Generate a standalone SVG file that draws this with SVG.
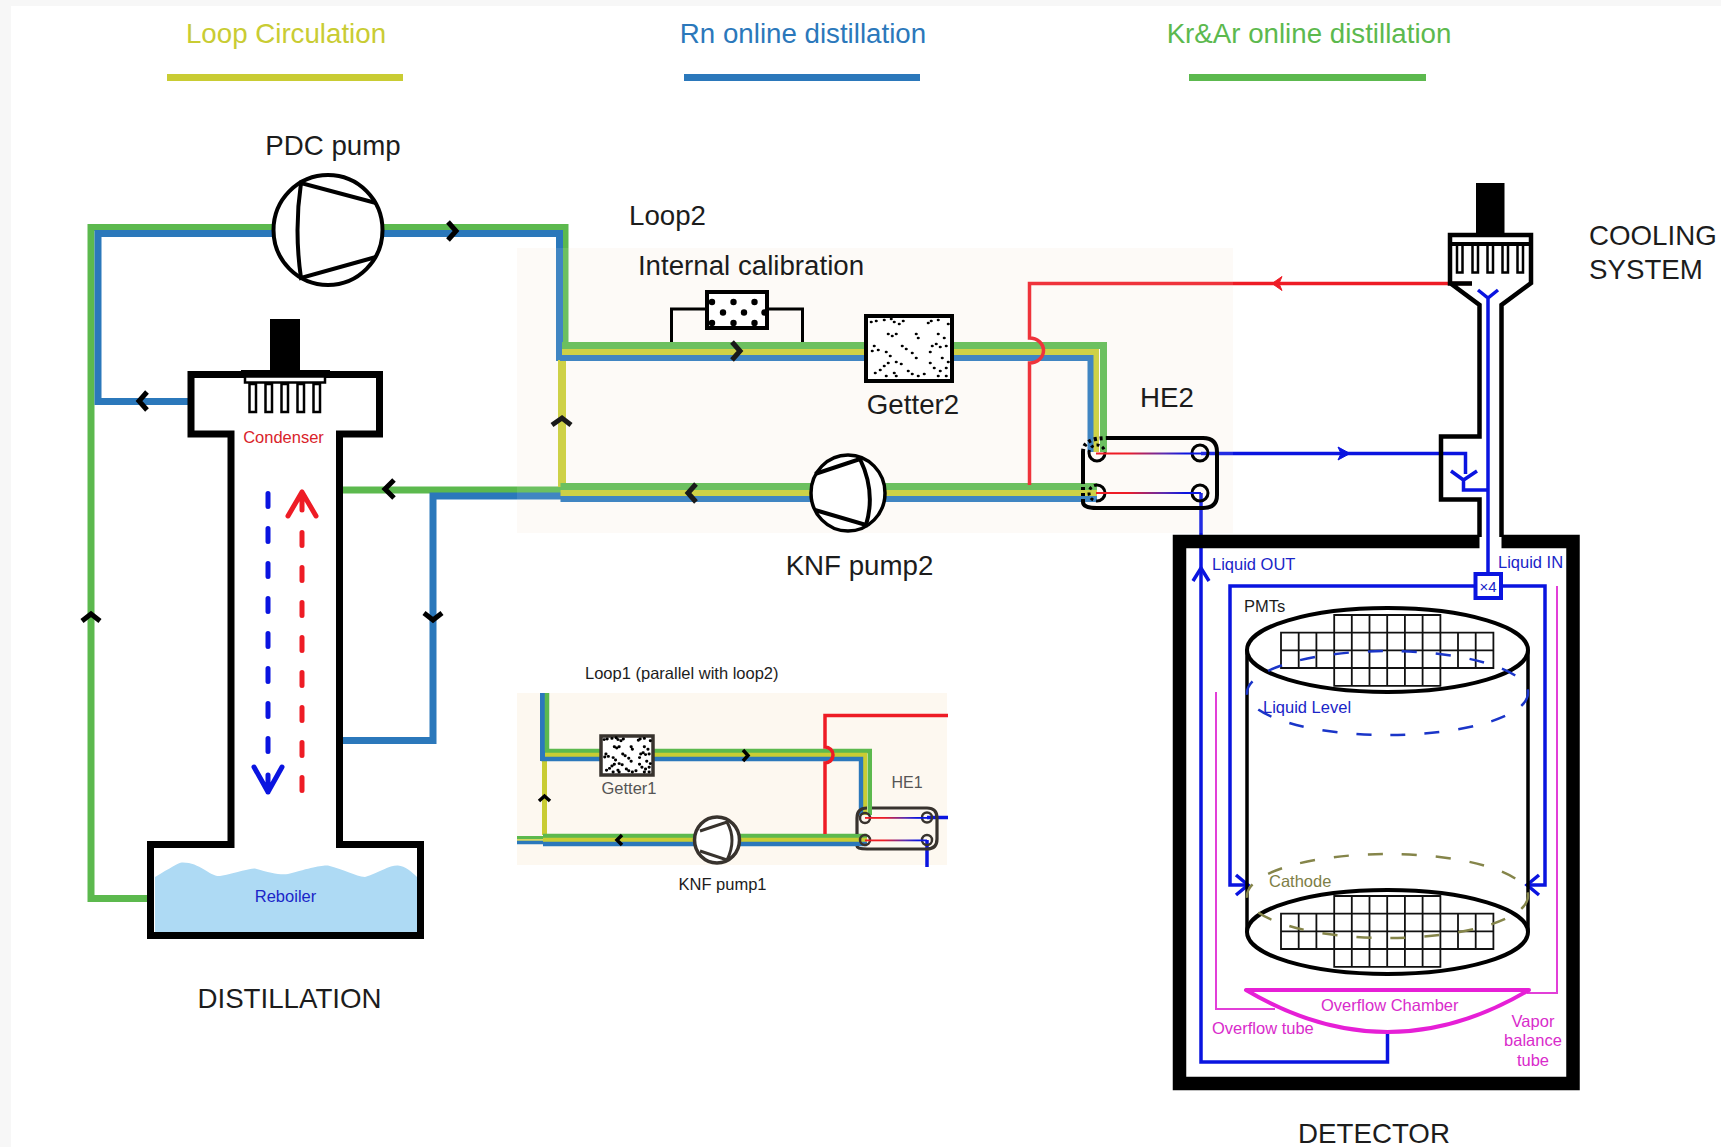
<svg xmlns="http://www.w3.org/2000/svg" xmlns:xlink="http://www.w3.org/1999/xlink" width="1721" height="1147" viewBox="0 0 1721 1147">
<style>
text{font-family:"Liberation Sans",Arial,sans-serif;font-size:27.700px;fill:#1c1c1c}
.m{text-anchor:middle}
.s{font-size:16.500px}
.blu{fill:#1a25c8}.mag{fill:#d92bcb}
.p{fill:none;stroke-linejoin:miter}
.g{stroke:#5cb94e}.b{stroke:#2b78bb}.y{stroke:#c9cc33}
.w7{stroke-width:7}.w4{stroke-width:4.400}
.red{fill:none;stroke:#ee1c25;stroke-width:3.500}
.bl{fill:none;stroke:#0a14e0;stroke-width:3.500}
.k{fill:none;stroke:#000;stroke-width:4}
.kw{fill:#fff;stroke:#000;stroke-width:4}
.chev{fill:none;stroke:#000;stroke-width:5}
.grid{fill:none;stroke:#111;stroke-width:1.800}
.mt{fill:none;stroke:#e23fd8;stroke-width:2}
.dk{stroke:#38332e}
.dash{stroke-dasharray:3 3}
</style>
<defs>
<linearGradient id="rb" gradientUnits="objectBoundingBox" x1="0" y1="0" x2="1" y2="0">
<stop offset="0.3" stop-color="#ee1c25"/><stop offset="0.65" stop-color="#5a2bb0"/><stop offset="0.85" stop-color="#0a14e0"/>
</linearGradient>
<path id="dots" fill="none" stroke="#000" stroke-linecap="round" d="M5,6h.5M10,5h.5M18,4h.5M25,3h.5M28,6h.5M33,8h.5M37,5h.5M62,7h.5M65,5h.5M72,4h.5M22,18h.5M26,20h.5M30,18h.5M50,18h.5M52,22h.5M72,18h.5M78,22h.5M8,30h.5M6,35h.5M12,34h.5M20,36h.5M36,30h.5M40,33h.5M46,37h.5M50,42h.5M66,30h.5M70,28h.5M64,36h.5M74,31h.5M80,30h.5M24,40h.5M30,46h.5M35,48h.5M18,50h.5M22,47h.5M64,47h.5M68,52h.5M76,42h.5M82,46h.5M80,52h.5M74,55h.5M9,57h.5M14,54h.5M20,60h.5M28,57h.5M30,60h.5M42,55h.5M46,58h.5M52,60h.5M58,58h.5M72,60h.5M80,60h.5M82,8h.5"/>
<path id="cells" d="M53.200,0H159.400V17.700H212.400V53H159.400V70.800H53.200V53H0V17.700H53.200ZM70.800,0V70.800M88.500,0V70.800M106.200,0V70.800M123.900,0V70.800M141.600,0V70.800M17.700,17.700V53M35.400,17.700V53M53.200,17.700V53M159.400,17.700V53M177,17.700V53M194.700,17.700V53M0,35.400H212.400M53.200,17.700H159.400M53.200,53H159.400"/>
</defs>

<rect width="1721" height="1147" fill="#fff"/>
<path d="M0,0H1721V6H11V1147H0Z" fill="#f7f7f7"/>

<g id="backgrounds">
<rect x="517" y="248" width="716" height="285" fill="#fdfaf6"/>
<rect x="517" y="693" width="430" height="172" fill="#fdf8f0"/>
</g>

<g id="connectors">
<path class="p g w7" d="M147,898.500H91V227.500H565V345"/>
<path class="p b w7" d="M188,401.500H98V233.500H559.500V361"/>
<path class="p g w7" d="M343,490H565"/>
<path class="p b w7" d="M342,740.500H433V496H562"/>
<path class="p y" stroke-width="8" d="M562,360V487"/>
<path class="p g w7" d="M562,345.500H1103.500V452"/>
<path class="p y" stroke-width="6" d="M562,352H1096V452"/>
<path class="p b" stroke-width="6" d="M560,358H1090.500V452"/>
<path class="p g w7" d="M560.500,486.500H1097"/>
<path class="p y" stroke-width="6" d="M560.500,493H1097"/>
<path class="p b" stroke-width="6" d="M560.500,499H1097"/>
<path class="p b" stroke-width="5" d="M542.500,693V761"/>
<path class="p g" stroke-width="4.500" d="M547,693V751"/>
<path class="p y" stroke-width="5" d="M544.500,761V835"/>
<path class="p g w4" d="M545,751H869.800V815"/>
<path class="p y w4" d="M545,755H865V815"/>
<path class="p b w4" d="M541,759H861V815"/>
<path class="p g w4" d="M543,836H867"/>
<path class="p y w4" d="M543,840H867"/>
<path class="p b w4" d="M543,844H867"/>
<path class="p g" stroke-width="3" d="M517,837.500H543"/>
<path class="p y" stroke-width="1.500" d="M517,840H543"/>
<path class="p b" stroke-width="3.500" d="M517,842.500H543"/>
<path class="red" d="M1472,283.500H1029.500V338A14,12.500 0 0 1 1029.500,363V485"/>
<path class="red" stroke-width="3" d="M948,715.500H825V747A8,8 0 0 1 825,763V834"/>
<path class="bl" d="M1201,453.500H1465.500V474"/>
<path class="bl" d="M1451,471L1463.500,480L1477,471M1463.500,480V490H1488"/>
<path class="bl" d="M1201,493V1062H1387.500V1032"/>
<path class="bl" d="M1193,581L1201,568L1209,581"/>
<path class="bl" d="M1478,290L1488,298L1498,290M1488,298V574"/>
<path class="bl" d="M1476,586H1230V885H1246"/>
<path class="bl" d="M1501,586H1545V885H1530"/>
<path class="bl" stroke-width="3" d="M927,817.500H948M927,840V867"/>
<path d="M1236,875L1248,885L1236,895" class="bl" stroke-width="4.500"/>
<path d="M1539,875L1527,885L1539,895" class="bl" stroke-width="4.500"/>
<path d="M1272,283.500L1282,276.500L1279,283.500L1282,290.500Z" fill="#ee1c25" stroke="#ee1c25"/>
<path d="M1350,453.500L1338,447L1341,453.500L1338,460Z" fill="#0a14e0" stroke="#0a14e0"/>
<g class="chev">
<path d="M448,222L456,231L448,240"/>
<path d="M147,392L139,401L147,410"/>
<path d="M394,480L385,489L394,498"/>
<path d="M82,621L91,614L100,621"/>
<path d="M424,613L433,620L442,613"/>
<path d="M552,425L562,418L571,425"/>
<path d="M732,342L740,351L732,360"/>
<path d="M696,484L688,493L696,502"/>
</g>
<g class="chev" style="stroke-width:3.500px">
<path d="M539,801L544.500,796L550,801"/>
<path d="M622,835L617,840L622,845"/>
<path d="M743,750L748,755.500L743,761"/>
</g>
</g>
<rect id="tint" x="517" y="248" width="716" height="285" fill="#fff" opacity="0.1"/>

<g id="pdc-pump">
<ellipse cx="328" cy="230" rx="54.500" ry="55" class="kw"/>
<path class="k" stroke-width="3.500" d="M376,203L301,183Q294,230 301,278L376,257"/>
<text class="m" x="333" y="155">PDC pump</text>
</g>

<g id="distillation">
<path d="M155,932V877C170,868 180,862 182,862.500C200,862 210,877 220,876C240,872 250,868 255,868.500C270,873 280,875 288,874C310,868 320,865.500 328,865.500C345,870 355,876 365,877C380,872 390,865 398,865.500C405,866 412,872 417,877V932Z" fill="#aedaf4"/>
<path d="M231,434H191V374.500H379.500V434H339.500V844.500H420.500V935.500H150.500V844.500H231Z" fill="none" stroke="#000" stroke-width="7"/>
<rect x="270" y="319" width="30" height="54" fill="#000"/>
<rect x="241" y="370" width="89" height="7" fill="#000"/>
<rect x="245" y="376.500" width="80" height="6" class="kw" style="stroke-width:2.500px"/>
<g class="kw" style="stroke-width:2.500px">
<rect x="249.500" y="384" width="6.500" height="28"/>
<rect x="265.500" y="384" width="6.500" height="28"/>
<rect x="281.500" y="384" width="6.500" height="28"/>
<rect x="297.500" y="384" width="6.500" height="28"/>
<rect x="313.500" y="384" width="6.500" height="28"/>
</g>
<path d="M268,493.500V757" fill="none" stroke="#0a14e0" stroke-width="5" stroke-dasharray="13 22" stroke-linecap="round"/>
<path d="M254,767L268,792L282,767M268,775V792" fill="none" stroke="#0a14e0" stroke-width="5" stroke-linecap="round" stroke-linejoin="round"/>
<path d="M302,790.500V530" fill="none" stroke="#ee1c25" stroke-width="5" stroke-dasharray="13 22" stroke-linecap="round"/>
<path d="M288,516L302,492L316,516M302,492V510" fill="none" stroke="#ee1c25" stroke-width="5" stroke-linecap="round" stroke-linejoin="round"/>
<text class="m s" x="283.500" y="443" style="fill:#d9232a">Condenser</text>
<text class="m s blu" x="285.500" y="902">Reboiler</text>
<text class="m" x="289.500" y="1008">DISTILLATION</text>
</g>

<g id="loop2-labels">
<text x="629" y="225">Loop2</text>
<text class="m" x="751" y="275">Internal calibration</text>
</g>

<g id="internal-calibration">
<path class="k" style="stroke-width:3px" d="M671.500,342V309H707M767,309H802.500V342"/>
<rect x="707" y="292" width="60" height="36" class="kw"/>
<g fill="#000"><circle cx="712" cy="302" r="3.200"/><circle cx="733.500" cy="302" r="3.200"/><circle cx="754.500" cy="302" r="3.200"/><circle cx="723" cy="312.500" r="3.200"/><circle cx="744" cy="312.500" r="3.200"/><circle cx="764.500" cy="312.500" r="3.200"/><circle cx="712" cy="323" r="3.200"/><circle cx="733.500" cy="323" r="3.200"/><circle cx="754.500" cy="323" r="3.200"/></g>
</g>

<g id="getter2">
<rect x="866" y="316" width="86" height="65" class="kw"/>
<use xlink:href="#dots" href="#dots" x="866" y="316" stroke-width="2.600"/>
<text class="m" x="913" y="414">Getter2</text>
</g>

<g id="knf-pump2">
<ellipse cx="848" cy="493" rx="37" ry="38" class="kw" style="stroke-width:3.500px"/>
<path class="k" d="M815,474L860,459Q876,492 866,525L815,510"/>
<text class="m" x="859.500" y="575">KNF pump2</text>
</g>

<g id="he2">
<path class="k" d="M1107,438H1203Q1217,438 1217,452V495Q1217,508 1203,508H1097Q1083,508 1083,502M1083,484V452"/>
<path class="k dash" d="M1083,502V484M1083,452Q1083,438 1107,438"/>
<path class="k" style="stroke-width:3px" d="M1089,453A8,8 0 0 0 1105,453M1097,485A8,8 0 0 1 1097,501"/>
<path class="k dash" style="stroke-width:3px" d="M1089,453A8,8 0 0 1 1105,453M1097,485A8,8 0 0 0 1097,501"/>
<ellipse cx="1200" cy="453" rx="8" ry="8" class="k" style="stroke-width:3px"/>
<ellipse cx="1200" cy="493" rx="8" ry="8" class="k" style="stroke-width:3px"/>
<rect x="1096" y="452.500" width="105" height="2" fill="url(#rb)"/>
<rect x="1096" y="492" width="105" height="2" fill="url(#rb)"/>
<text x="1140" y="407">HE2</text>
</g>

<g id="cooling-system">
<rect x="1476" y="183" width="28.500" height="52" fill="#000"/>
<path class="k" style="stroke-width:4.500px" d="M1472,283.500H1450V235H1531V283L1501.500,305V537M1450,283L1479.500,305V436.500H1441V499.500H1479.500V537"/>
<rect x="1450" y="242" width="81" height="4" fill="#000"/>
<path class="k" style="stroke-width:2.500px" d="M1457,246V272.500H1462.500V246M1472.500,246V272.500H1478V246M1487.500,246V272.500H1493V246M1502.500,246V272.500H1508V246M1517.500,246V272.500H1523V246"/>
<text x="1589" y="245">COOLING</text>
<text x="1589" y="279">SYSTEM</text>
</g>

<g id="detector">
<path d="M1479.500,541.500H1179.500V1083.500H1573V541.500H1501.500" fill="none" stroke="#000" stroke-width="13.500"/>
<path class="k" style="stroke-width:3.500px" d="M1247,650V932M1528,650V932"/>
<ellipse cx="1387.500" cy="650" rx="140.500" ry="42" class="kw"/>
<ellipse cx="1387.500" cy="932" rx="140.500" ry="42" class="kw"/>
<use xlink:href="#cells" href="#cells" x="1281" y="615" class="grid"/>
<use xlink:href="#cells" href="#cells" x="1281" y="896" class="grid"/>
<ellipse cx="1387.500" cy="693" rx="140.500" ry="42" fill="none" stroke="#1a35c8" stroke-width="2.500" stroke-dasharray="15 19"/>
<ellipse cx="1387.500" cy="896" rx="140.500" ry="42" fill="none" stroke="#85854a" stroke-width="2.500" stroke-dasharray="15 19"/>
<path class="mt" d="M1216,692V1009H1275M1557,586V993H1527"/>
<path d="M1246,990H1529Q1387.500,1074 1246,990Z" fill="none" stroke="#e61fd6" stroke-width="4" stroke-linejoin="round"/>
<rect x="1475.500" y="574" width="25.500" height="24" fill="#fff" stroke="#0a14e0" stroke-width="4"/>
<text class="m blu" style="font-size:15px" x="1488" y="592">×4</text>
<text class="s blu" x="1212" y="570">Liquid OUT</text>
<text class="s blu" x="1498" y="568">Liquid IN</text>
<text class="s" x="1244" y="612">PMTs</text>
<text class="s blu" x="1263" y="713">Liquid Level</text>
<text class="s" x="1269" y="887" style="fill:#7e7e46">Cathode</text>
<text class="s mag" x="1321" y="1011">Overflow Chamber</text>
<text class="s mag" x="1212" y="1034">Overflow tube</text>
<text class="m s mag" x="1533" y="1027">Vapor</text>
<text class="m s mag" x="1533" y="1046">balance</text>
<text class="m s mag" x="1533" y="1066">tube</text>
<text class="m" x="1374" y="1143">DETECTOR</text>
</g>

<g id="loop1">
<text class="s" x="585" y="679">Loop1 (parallel with loop2)</text>
<g id="getter1">
<rect x="601" y="736" width="52" height="39" fill="#fff" stroke="#38332e" stroke-width="3.500"/>
<use xlink:href="#dots" href="#dots" transform="translate(601,736) scale(.6)" stroke-width="4.800"/>
<text class="m" x="629" y="794" style="font-size:16.500px;fill:#555">Getter1</text>
</g>
<g id="knf-pump1">
<ellipse cx="717" cy="840" rx="22.500" ry="23" class="kw dk" style="stroke-width:3.500px"/>
<path class="k dk" style="stroke-width:3px" d="M700,831L727,822Q737,840 727,860L700,851"/>
<text class="m" x="722.500" y="890" style="font-size:16.500px">KNF pump1</text>
</g>
<g id="he1">
<path class="k dk" style="stroke-width:3.200px" d="M872,808H927Q937,808 937,818V839Q937,849 927,849H867Q857,849 857,846M857,834V818Q857,808 867,808"/>
<circle cx="865" cy="818" r="5" class="k dk" style="stroke-width:2.500px"/>
<circle cx="865" cy="840" r="5" class="k dk" style="stroke-width:2.500px"/>
<circle cx="927" cy="817.500" r="5" class="k dk" style="stroke-width:2.500px"/>
<circle cx="927" cy="840" r="5" class="k dk" style="stroke-width:2.500px"/>
<rect x="865" y="817" width="62" height="1.800" fill="url(#rb)"/>
<rect x="865" y="839.500" width="62" height="1.800" fill="url(#rb)"/>
<text class="m" x="907" y="788" style="font-size:16px;fill:#555">HE1</text>
</g>
</g>

<g id="legend">
<text class="m" x="286" y="43" style="fill:#c9cc33">Loop Circulation</text>
<text class="m" x="803" y="43" style="fill:#2b78bb">Rn online distillation</text>
<text class="m" x="1309" y="43" style="fill:#5cb94e">Kr&amp;Ar online distillation</text>
<rect x="167" y="74" width="236" height="7" fill="#c9cc33"/>
<rect x="684" y="74" width="236" height="7" fill="#2b78bb"/>
<rect x="1189" y="74" width="237" height="7" fill="#5cb94e"/>
</g>
</svg>
